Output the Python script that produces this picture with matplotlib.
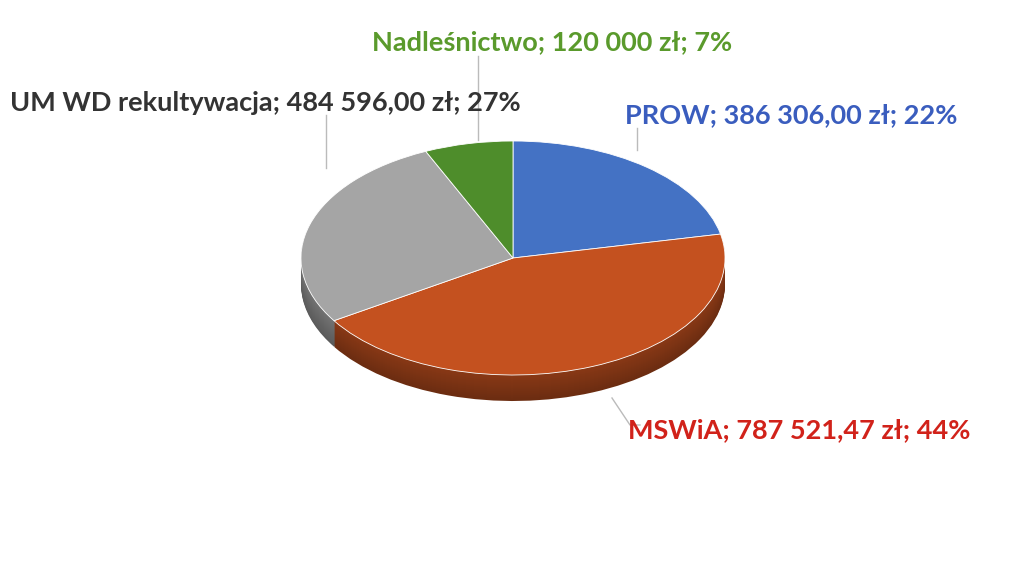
import matplotlib.pyplot as plt
import numpy as np
from matplotlib.colors import to_rgb

labels = ['PROW', 'MSWiA', 'UM WD rekultywacja', 'Nadleśnictwo']
values = [386306.00, 787521.47, 484596.00, 120000.00]
value_texts = ['386 306,00 zł', '787 521,47 zł', '484 596,00 zł', '120 000 zł']
percents = ['22%', '44%', '27%', '7%']
colors = ['#4472C4', '#C4511F', '#A5A5A5', '#4E8D2B']
text_colors = ['#3A5DBE', '#D1221A', '#333333', '#5A9A2C']

W, H = 1023, 563
S = 117 / 212  # vertical squash
CX, CY, R = 513, 258, 212
DEPTH = 26

fig = plt.figure(figsize=(W / 100, H / 100), dpi=100)
ax = fig.add_axes([0, 0, 1, 1])


def dy(py):
    return (H - py) / S


def darker(c, f):
    r, g, b = to_rgb(c)
    return (r * f, g * f, b * f)


# side of the 3D pie: stacked layers
for k in range(DEPTH, 0, -1):
    f = 0.55 + 0.15 * (1 - k / DEPTH)
    ax.pie(values, colors=[darker(c, f) for c in colors], startangle=90,
           counterclock=False, radius=R, center=(CX, dy(CY + k)),
           wedgeprops=dict(linewidth=0), frame=True)
# top face
ax.pie(values, colors=colors, startangle=90, counterclock=False, radius=R,
       center=(CX, dy(CY)), wedgeprops=dict(linewidth=0.6, edgecolor='white'),
       frame=True)
ax.set_aspect('auto')
ax.set_xlim(0, W)
ax.set_ylim(0, H / S)
ax.axis('off')

# labels (pixel positions) and leader lines
label_pos = [(625, 115), (628, 430), (10, 103), (372, 42)]
leaders = [[(637, 128), (637, 150)], [(612, 398), (630, 425), (640, 425)],
           [(326, 115), (326, 168)], [(478, 56), (478, 140)]]
for i in range(len(values)):
    x, y = label_pos[i]
    fig.text(x / W, 1 - y / H, f'{labels[i]}; {value_texts[i]}; {percents[i]}',
             color=text_colors[i], fontsize=19.5, fontweight='bold', family='Lato',
             ha='left', va='center')
    pts = leaders[i]
    ax.plot([p[0] for p in pts], [dy(p[1]) for p in pts], color='#BBBBBB', lw=1)

fig.savefig('out.png', dpi=100, facecolor='white')
